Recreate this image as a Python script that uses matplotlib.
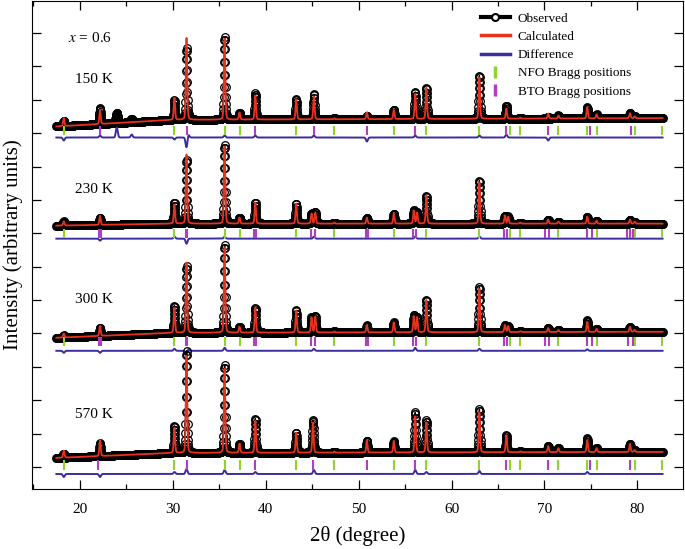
import numpy as np
import matplotlib.pyplot as plt
from matplotlib.lines import Line2D
from matplotlib.ticker import MultipleLocator

plt.rcParams['font.family'] = ['Liberation Serif', 'DejaVu Serif']
plt.rcParams['mathtext.fontset'] = 'stix'

# 2theta grid of the scan
two_theta = np.arange(17.5, 82.72, 0.02)

temps = ['150 K', '230 K', '300 K', '570 K']

# peak positions (degree) and heights (counts) of the calculated pattern
pos_150 = [18.3, 22.2, 30.2, 31.5, 35.6, 37.2, 38.9, 43.3, 45.2, 47.4, 50.9, 53.8,
           56.1, 57.3, 63.0, 65.9, 67.4, 70.4, 71.5, 74.6, 75.6, 79.2, 79.7]
h_150 = [240, 420, 660, 2450, 2420, 210, 720, 600, 690, 30, 210, 270,
         750, 930, 1230, 300, 30, 150, 90, 330, 120, 150, 60]

pos_230 = [18.3, 22.2, 30.2, 31.5, 35.6, 37.2, 38.9, 43.3, 44.95, 45.35, 47.4, 50.9, 53.8,
           55.95, 56.3, 57.3, 63.0, 65.75, 66.1, 67.4, 70.4, 71.5, 74.6, 75.6, 79.2, 79.7]
h_230 = [120, 270, 570, 2070, 2310, 180, 630, 600, 300, 330, 30, 180, 300,
         390, 330, 840, 1230, 240, 210, 30, 120, 60, 210, 90, 120, 60]

pos_300 = [18.3, 22.2, 30.2, 31.5, 35.6, 37.2, 38.9, 43.3, 44.95, 45.35, 47.4, 50.9, 53.8,
           55.95, 56.3, 57.3, 63.0, 65.75, 66.1, 67.4, 70.4, 71.5, 74.6, 75.6, 79.2, 79.7]
h_300 = [120, 300, 750, 2100, 2550, 180, 750, 660, 450, 480, 30, 210, 300,
         480, 450, 960, 1290, 210, 180, 30, 120, 60, 300, 90, 150, 60]

pos_570 = [18.3, 22.2, 30.2, 31.5, 35.6, 37.2, 38.9, 43.3, 45.1, 47.4, 50.9, 53.8,
           56.1, 57.3, 63.0, 65.9, 67.4, 70.4, 71.5, 74.6, 75.6, 79.2, 79.7]
h_570 = [210, 480, 750, 2910, 2520, 270, 960, 600, 900, 30, 360, 330,
         1080, 900, 1200, 510, 30, 180, 120, 360, 120, 240, 60]

# observed - calculated features (degree, counts)
res_pos_150 = [18.3, 22.2, 24.0, 25.6, 30.2, 31.5, 31.7, 35.6, 38.9, 45.2, 50.9, 56.1, 63.0, 65.9, 70.4]
res_amp_150 = [-90, 60, 300, 90, -60, -300, 90, 60, 60, 60, -120, 60, 60, 90, -90]
res_pos_230 = [22.2, 30.2, 31.5, 35.6, 45.2, 56.1, 63.0]
res_amp_230 = [-60, 60, -150, 60, 60, 60, 60]
res_pos_300 = [18.3, 22.2, 30.2, 31.5, 31.7, 35.6, 45.2, 56.1, 63.0, 74.6]
res_amp_300 = [-60, -60, 60, -120, 60, 90, 60, 90, 60, 45]
res_pos_570 = [18.3, 22.2, 30.2, 31.5, 35.6, 38.9, 45.2, 56.1, 57.3, 63.0, 74.6]
res_amp_570 = [-90, -90, 60, 150, 120, 60, 120, 120, 60, 90, 60]

# background (counts) at 17.5, 30 and 82.7 degree
bg_x = [17.5, 30.0, 82.7]
bg_150 = [10200, 10400, 10450]
bg_230 = [7230, 7290, 7290]
bg_300 = [3870, 4020, 4050]
bg_570 = [270, 420, 450]

# Bragg tick rows and difference offsets (counts)
tick_rows = [10080, 6990, 3750, 60]
diff_rows = [9870, 6840, 3480, -210]
label_rows = [11610, 8310, 5010, 1560]

# Bragg positions
nfo_pos = [18.3, 30.2, 35.6, 37.3, 43.3, 47.4, 53.8, 57.3, 63.0, 66.3, 67.4,
           71.5, 74.6, 75.6, 79.7, 82.6]
bto_150 = [22.2, 31.5, 38.9, 45.2, 50.9, 56.1, 65.9, 70.4, 74.9, 79.3]
bto_230 = [22.1, 22.3, 31.4, 31.6, 38.8, 39.0, 44.9, 45.3, 50.8, 51.0, 55.9, 56.2,
           65.7, 66.0, 70.1, 70.5, 74.6, 75.1, 78.9, 79.2, 79.5]
bto_300 = [22.1, 22.3, 31.4, 31.6, 38.8, 39.0, 44.9, 45.3, 50.8, 51.0, 55.9, 56.2,
           65.7, 66.0, 70.1, 70.5, 74.6, 75.1, 79.0, 79.5]
bto_570 = [22.0, 31.5, 38.9, 45.1, 50.9, 56.1, 65.9, 70.4, 74.9, 79.2]

c_obs = 'black'
c_calc = '#e8321e'
c_diff = '#3b2ca0'
c_nfo = '#8fd42a'
c_bto = '#b23cc4'


def profile(pos, height, fwhm=0.17):
    y = np.zeros_like(two_theta)
    for p, h in zip(pos, height):
        d = (two_theta - p) / (fwhm / 2)
        y += h * (0.25 / (1 + d**2) + 0.75 * np.exp(-np.log(2) * d**2))
    return y


def residual(pos, amp, sigma=0.1):
    y = np.zeros_like(two_theta)
    for p, a in zip(pos, amp):
        y += a * np.exp(-0.5 * ((two_theta - p) / sigma)**2)
    return y


panels = [
    (pos_150, h_150, res_pos_150, res_amp_150, bg_150, bto_150),
    (pos_230, h_230, res_pos_230, res_amp_230, bg_230, bto_230),
    (pos_300, h_300, res_pos_300, res_amp_300, bg_300, bto_300),
    (pos_570, h_570, res_pos_570, res_amp_570, bg_570, bto_570),
]

fig = plt.figure(figsize=(6.85, 5.49), dpi=100)
ax = fig.add_axes([0.0463, 0.1093, 0.9508, 0.8889])

for i, (pos, h, rp, ra, bg, bto) in enumerate(panels):
    calc = np.interp(two_theta, bg_x, bg) + profile(pos, h)
    res = residual(rp, ra)
    obs = calc + res
    ax.plot(two_theta, obs, color=c_obs, lw=1, marker='o', ms=5.5, mfc='none',
            mec=c_obs, mew=0.9, zorder=2)
    ax.plot(two_theta, calc, color=c_calc, lw=1.3, zorder=3)
    ax.plot(two_theta, diff_rows[i] + res, color=c_diff, lw=1.4, zorder=2)
    ax.vlines(nfo_pos, tick_rows[i] - 140, tick_rows[i] + 140, color=c_nfo, lw=1.5, zorder=2)
    ax.vlines(bto, tick_rows[i] - 140, tick_rows[i] + 140, color=c_bto, lw=1.5, zorder=2)
    ax.text(19.5, label_rows[i], temps[i], fontsize=11, va='center', ha='left')

ax.text(18.8, 12840, r'$x$ = 0.6', fontsize=11, va='center', ha='left')

ax.set_xlim(14.85, 84.9)
ax.set_ylim(-660, 13960)
ax.xaxis.set_major_locator(MultipleLocator(10))
ax.xaxis.set_minor_locator(MultipleLocator(5))
ax.yaxis.set_major_locator(MultipleLocator(1000))
ax.set_yticklabels([])
ax.tick_params(which='both', direction='in', top=True, right=True)
ax.tick_params(which='major', length=6.5, width=0.9, labelsize=11, pad=10)
ax.tick_params(which='minor', length=3.5, width=0.9)
ax.set_xlabel('2θ (degree)', fontsize=15, labelpad=7)
ax.set_ylabel('Intensity (arbitrary units)', fontsize=15, va='center')
ax.yaxis.set_label_coords(-0.029, 0.5)

handles = [
    Line2D([], [], color=c_obs, lw=3, marker='o', ms=5, mfc='white', mec=c_obs, mew=1.5),
    Line2D([], [], color=c_calc, lw=2.5),
    Line2D([], [], color=c_diff, lw=2.5),
    Line2D([], [], color=c_nfo, lw=0, marker='|', ms=8, mew=2.5),
    Line2D([], [], color=c_bto, lw=0, marker='|', ms=8, mew=2.5),
]
labels = ['Observed', 'Calculated', 'Difference', 'NFO Bragg positions', 'BTO Bragg positions']
ax.legend(handles, labels, loc='upper left', bbox_to_anchor=(0.675, 0.995), frameon=False,
          fontsize=9.5, handlelength=2.2, handletextpad=0.6, labelspacing=0.45, borderpad=0.2)

fig.savefig('out.png', dpi=100)
